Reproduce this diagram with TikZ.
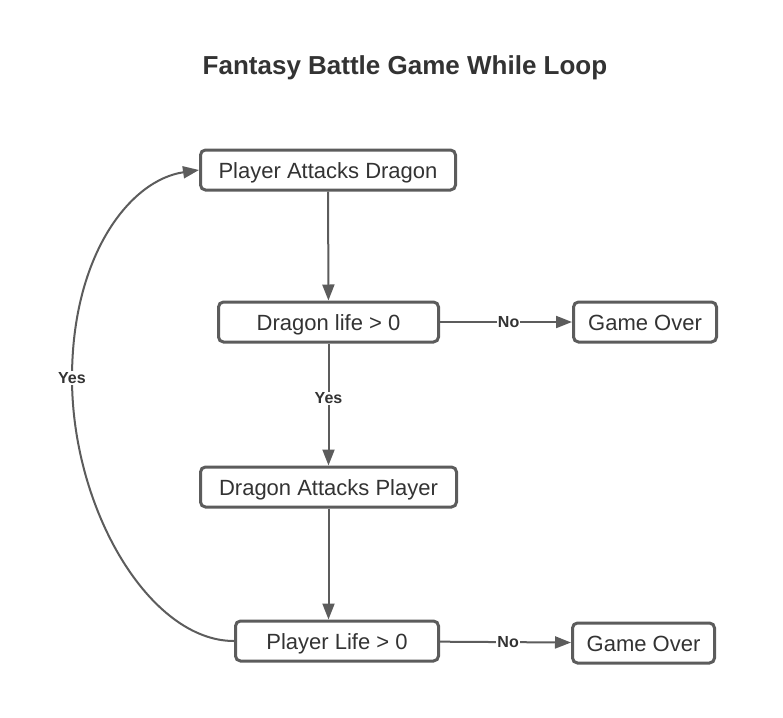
\documentclass[tikz,border=0pt]{standalone}
\usepackage{fontspec}
\setmainfont{Liberation Sans}
\usepackage{xcolor}
\definecolor{linegray}{HTML}{5C5C5C}
\definecolor{textgray}{HTML}{333333}
\usepackage{tikz}
\usetikzlibrary{arrows.meta, positioning}

\begin{document}
\begin{tikzpicture}[
  x=1pt, y=-1pt,
  font=\fontsize{22}{26}\selectfont, text=textgray,
  box/.style={rectangle, rounded corners=5pt, draw=linegray, line width=3pt, fill=white, minimum height=40pt, inner sep=0pt, text height=16pt, text depth=0pt},
  arrow/.style={-{Triangle[length=16pt, width=12pt]}, color=linegray, line width=2pt},
  lbl/.style={fill=white, inner sep=1pt, font=\fontsize{16}{18}\selectfont\bfseries, text=textgray}
]
  \useasboundingbox (0,0) rectangle (783,717);

  % Titre
  \node[font=\fontsize{26}{30}\selectfont\bfseries, text height=19pt, text depth=0pt] (title) at (405,65) {Fantasy Battle Game While Loop};

  % Boîtes
  \node[box, minimum width=255pt] (pad) at (328,170) {Player Attacks Dragon};
  \node[box, minimum width=220pt] (dl)  at (328.5,322) {Dragon life > 0};
  \node[box, minimum width=143pt] (go1) at (645,322) {Game Over};
  \node[box, minimum width=256pt] (dap) at (328.5,487) {Dragon Attacks Player};
  \node[box, minimum width=203pt] (pl)  at (337,641) {Player Life > 0};
  \node[box, minimum width=142pt] (go2) at (643.5,643) {Game Over};

  % Connexions
  \draw[arrow] (pad) -- (dl);
  \draw[arrow] (dl) -- node[lbl, pos=0.45] {Yes} (dap);
  \draw[arrow] (dl) -- node[lbl, pos=0.52] {No} (go1);
  \draw[arrow] (dap.south) -- (dap.south |- pl.north);
  \draw[arrow] (pl) -- node[lbl, pos=0.52] {No} (go2);

  % Boucle
  \draw[arrow] (pl.west) .. controls (150,641) and (72,510) .. (72,378)
    node[lbl] {Yes}
    .. controls (72,255) and (130,180) .. (pad.west);
\end{tikzpicture}
\end{document}
